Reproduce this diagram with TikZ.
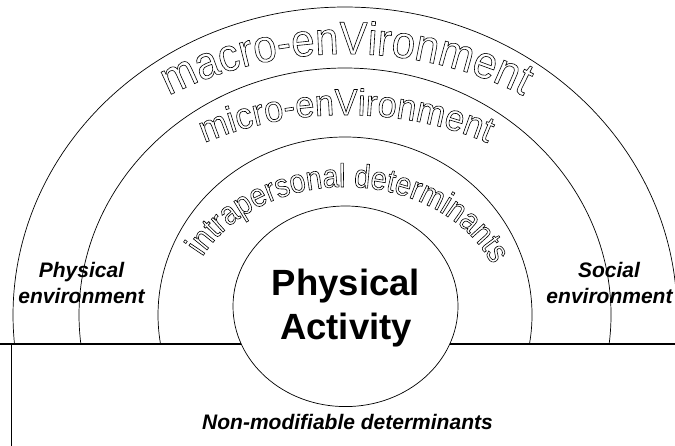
\documentclass[tikz,border=0pt]{standalone}
\usepackage{fontspec}
\setmainfont{Liberation Sans}
\newfontfamily\archmacro[FakeStretch=0.91]{Liberation Sans}
\newfontfamily\archmicro[FakeStretch=0.93]{Liberation Sans}
\newfontfamily\archintra[FakeStretch=0.87]{Liberation Sans}
\usetikzlibrary{decorations.text,shapes.geometric}
\makeatletter
\newcommand\outlinemode{\pgfsys@invoke{1 Tr 0.6 w}}
\makeatother
\begin{document}
\begin{tikzpicture}[x=1pt,y=1pt,
  band/.style={line width=0.7pt},
  sidelabel/.style={font=\fontsize{21}{26}\selectfont\bfseries\itshape, anchor=base, inner sep=0pt},
  centerlabel/.style={font=\fontsize{36.5}{44}\selectfont\bfseries, anchor=base, inner sep=0pt},
  arctext/.style={decorate, decoration={text along path, text align=center, text={#1}}}
  ]
\useasboundingbox (0,0) rectangle (675,446);
\coordinate (c) at (345,131);
\coordinate (tc) at (346,131);
% bands
\draw[band] ([shift={(-5.4:332 and 308)}]c) arc[start angle=-5.4,end angle=185.4,x radius=332,y radius=308];
\draw[band] ([shift={(-6.74:266 and 247)}]c) arc[start angle=-6.74,end angle=186.74,x radius=266,y radius=247];
\draw[band] ([shift={(-9.38:187 and 178)}]c) arc[start angle=-9.38,end angle=189.38,x radius=187,y radius=178];
% ground lines
\coordinate (gl) at (0,102);
\coordinate (gr) at (675,102);
\draw[line width=1.2pt] (gl) -- (gr);
\coordinate (vt) at (11.7,102);
\coordinate (vb) at (11.7,0);
\draw[line width=1pt] (vt) -- (vb);
% centre
\node[ellipse, draw, fill=white, band, minimum width=225, minimum height=200.6, inner sep=0pt] (pa) at (345.5,139.7) {};
\node[centerlabel] (pa1) at (346,150) {Physical};
\node[centerlabel] (pa2) at (346,106) {Activity};
% side labels
\node[sidelabel] (pe1) at (81.5,168) {Physical};
\node[sidelabel] (pe2) at (81.5,142) {environment};
\node[sidelabel] (se1) at (609,168) {Social};
\node[sidelabel] (se2) at (609.5,142) {environment};
\node[sidelabel] (nm) at (347.5,16) {Non-modifiable determinants};
% curved outlined texts
\begin{scope}
\outlinemode
\path[arctext={|\archmacro\fontsize{46}{46}\selectfont|macro-enVironment}] ([shift={(132:326 and 261)}]tc) arc[start angle=132,end angle=48,x radius=326,y radius=261];
\path[arctext={|\archmicro\fontsize{37}{37}\selectfont|micro-enVironment}] ([shift={(130:277 and 200)}]tc) arc[start angle=130,end angle=50,x radius=277,y radius=200];
\path[arctext={|\archintra\fontsize{33}{33}\selectfont|intrapersonal determinants}] ([shift={(169:160 and 128)}]c) arc[start angle=169,end angle=7,x radius=160,y radius=128];
\end{scope}
\end{tikzpicture}
\end{document}
